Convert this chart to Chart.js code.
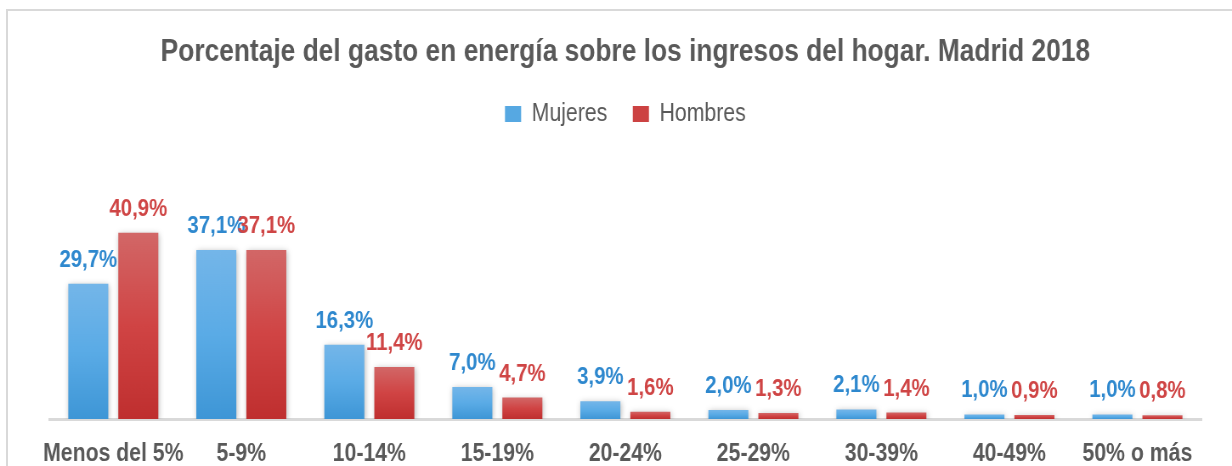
<!DOCTYPE html>
<html>
<head>
<meta charset="utf-8">
<script src="https://cdn.jsdelivr.net/npm/chart.js@4"></script>
<style>
    html, body { margin: 0; padding: 0; background: #fff; overflow: hidden; }
    #wrap { position: relative; width: 1232px; height: 466px; overflow: hidden; }
    #frame { position: absolute; left: 6px; top: 9px; width: 1400px; height: 600px;
             border-left: 2px solid #D9D9D9; border-top: 2px solid #D9D9D9; }
    #chart { position: absolute; left: 0; top: 0; width: 1232px; height: 490px; }
</style>
</head>
<body>
<div id="wrap">
    <div id="frame"></div>
    <canvas id="chart" width="1450" height="490" style="width:1232px;height:490px"></canvas>
</div>
<script>
const categories = ['Menos del 5%', '5-9%', '10-14%', '15-19%', '20-24%', '25-29%', '30-39%', '40-49%', '50% o más'];
const mujeres = [29.7, 37.1, 16.3, 7.0, 3.9, 2.0, 2.1, 1.0, 1.0];
const hombres = [40.9, 37.1, 11.4, 4.7, 1.6, 1.3, 1.4, 0.9, 0.8];

const textGray = '#595959';
const labelColors = ['#2E88CE', '#CF4545'];
const legendColors = ['#56A8E2', '#CC4242'];

// vertical gradient for each bar, light at the top, darker at the base
function barGradient(c, top, mid, bottom) {
    const chart = c.chart;
    if (!chart.chartArea || c.type !== 'data') return bottom;
    const y = chart.scales.y;
    const y0 = y.getPixelForValue(c.raw);
    const y1 = y.getPixelForValue(0);
    if (!isFinite(y0) || y1 - y0 < 1) return bottom;
    const g = chart.ctx.createLinearGradient(0, y0, 0, y1);
    g.addColorStop(0, top);
    g.addColorStop(0.5, mid);
    g.addColorStop(1, bottom);
    return g;
}

// soft shadow behind the bars
const barShadow = {
    id: 'barShadow',
    beforeDatasetsDraw(chart) {
        const ctx = chart.ctx;
        ctx.save();
        ctx.shadowColor = 'rgba(0,0,0,0.28)';
        ctx.shadowBlur = 6;
        ctx.shadowOffsetX = 1;
        ctx.shadowOffsetY = 1;
    },
    afterDatasetsDraw(chart) {
        chart.ctx.restore();
    }
};

// value labels over the bars
const valueLabels = {
    id: 'valueLabels',
    afterDatasetsDraw(chart) {
        const ctx = chart.ctx;
        ctx.save();
        ctx.font = 'bold 24px "Liberation Sans", Arial, sans-serif';
        ctx.textAlign = 'center';
        ctx.textBaseline = 'alphabetic';
        chart.data.datasets.forEach((ds, i) => {
            const meta = chart.getDatasetMeta(i);
            ctx.fillStyle = labelColors[i];
            meta.data.forEach((bar, j) => {
                const txt = ds.data[j].toFixed(1).replace('.', ',') + '%';
                ctx.fillText(txt, bar.x, bar.y - 17);
            });
        });
        ctx.restore();
    }
};

const ctx = document.getElementById('chart').getContext('2d');
const chart = new Chart(ctx, {
    type: 'bar',
    data: {
        labels: categories,
        datasets: [{
            label: 'Mujeres',
            data: mujeres,
            backgroundColor: (c) => barGradient(c, '#74B6E9', '#5AABE6', '#3E96D6')
        }, {
            label: 'Hombres',
            data: hombres,
            backgroundColor: (c) => barGradient(c, '#D26767', '#D04444', '#BF2F2F')
        }]
    },
    options: {
        responsive: false,
        animation: false,
        devicePixelRatio: 1,
        categoryPercentage: 0.78125,
        barPercentage: 0.8,
        layout: {
            padding: { left: 58, right: 36, top: 0, bottom: 1 }
        },
        plugins: {
            title: {
                display: true,
                text: 'Porcentaje del gasto en energía sobre los ingresos del hogar. Madrid 2018',
                color: textGray,
                font: { family: '"Liberation Sans", Arial, sans-serif', size: 31, weight: 'bold', lineHeight: 1.2 },
                padding: { top: 34, bottom: 0.3 }
            },
            legend: {
                display: true,
                labels: {
                    color: textGray,
                    font: { family: '"Liberation Sans", Arial, sans-serif', size: 25 },
                    boxWidth: 19,
                    boxHeight: 16,
                    padding: 30,
                    generateLabels: (chart) => chart.data.datasets.map((ds, i) => ({
                        text: ds.label,
                        fillStyle: legendColors[i],
                        strokeStyle: legendColors[i],
                        lineWidth: 0,
                        hidden: false,
                        datasetIndex: i,
                        fontColor: textGray
                    }))
                }
            },
            tooltip: { enabled: false }
        },
        scales: {
            x: {
                grid: { display: false, drawTicks: false },
                border: { display: true, color: '#D9D9D9', width: 3 },
                ticks: {
                    color: textGray,
                    padding: 20,
                    maxRotation: 0,
                    autoSkip: false,
                    font: { family: '"Liberation Sans", Arial, sans-serif', size: 25, weight: 'bold', lineHeight: 1.2 }
                }
            },
            y: {
                display: false,
                min: 0,
                max: 62
            }
        }
    },
    plugins: [barShadow, valueLabels]
});
</script>
</body>
</html>
